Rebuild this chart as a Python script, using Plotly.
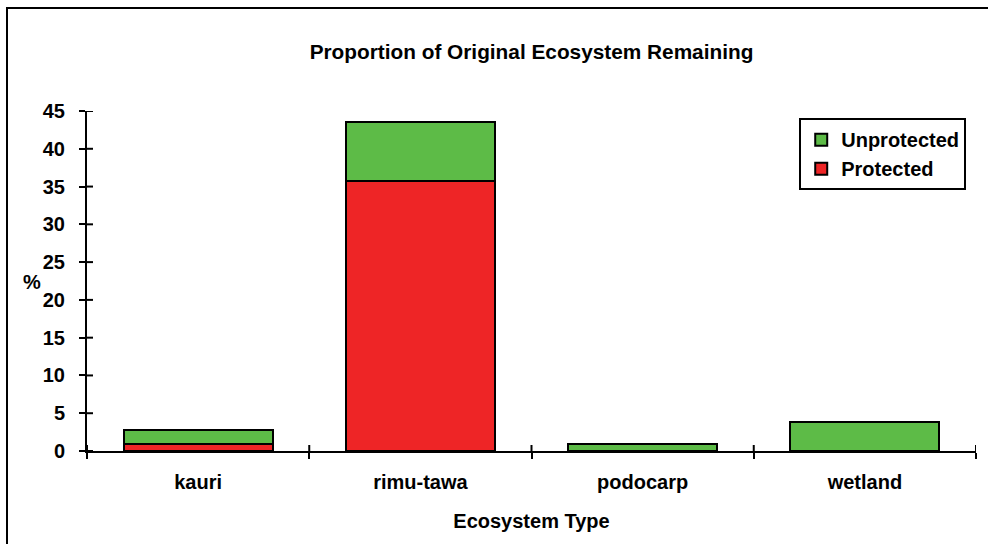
import plotly.graph_objects as go

# Share of each original ecosystem still remaining (%)
ecosystems = ["kauri", "rimu-tawa", "podocarp", "wetland"]
protected = [0.9, 35.8, 0.0, 0.0]
unprotected = [1.9, 7.7, 0.9, 3.9]
y_ticks = [0, 5, 10, 15, 20, 25, 30, 35, 40, 45]

GREEN = "#5DBB47"
RED = "#EE2526"
FONT = "Liberation Sans, Arial, sans-serif"

fig = go.Figure()
fig.add_trace(go.Bar(
    x=ecosystems, y=protected, name="<b>Protected</b>",
    marker=dict(color=RED, line=dict(color="black", width=2)),
))
fig.add_trace(go.Bar(
    x=ecosystems, y=unprotected, name="<b>Unprotected</b>",
    marker=dict(color=GREEN, line=dict(color="black", width=2)),
))

axis_font = dict(family=FONT, size=20, color="black")
TICK = 6  # tick half-length in px

fig.update_layout(
    width=988, height=544,
    margin=dict(l=87, r=12, t=111, b=93),
    paper_bgcolor="white", plot_bgcolor="white",
    barmode="stack", bargap=0.33,
    font=dict(family=FONT, color="black"),
    title=dict(
        text="<b>Proportion of Original Ecosystem Remaining</b>",
        x=0.5, xref="paper", y=1 - 52 / 544, yanchor="middle",
        font=dict(family=FONT, size=20.8, color="black"),
    ),
    xaxis=dict(
        type="category", categoryorder="array", categoryarray=ecosystems,
        range=[-0.5, 3.5], tickson="boundaries",
        ticks="outside", ticklen=TICK, tickwidth=2, tickcolor="black",
        showline=True, linecolor="black", linewidth=2,
        showgrid=False, zeroline=False,
        tickfont=axis_font,
        tickvals=ecosystems, ticktext=[f"<b>{e}</b>" for e in ecosystems],
        ticklabelstandoff=12,
        title=dict(text="<b>Ecosystem Type</b>", font=axis_font, standoff=22),
    ),
    yaxis=dict(
        range=[0, 45], tickvals=y_ticks,
        ticktext=[f"<b>{v}</b>" for v in y_ticks],
        ticks="outside", ticklen=TICK, tickwidth=2, tickcolor="black",
        showline=True, linecolor="black", linewidth=2,
        showgrid=False, zeroline=False,
        tickfont=axis_font, ticklabelstandoff=10,
    ),
    legend=dict(
        x=0.989, y=0.979, xanchor="right", yanchor="top",
        bgcolor="white", bordercolor="black", borderwidth=2,
        font=dict(family=FONT, size=20, color="black"),
        itemwidth=30,
    ),
    showlegend=True,
)

plot_w = 988 - 87 - 12
plot_h = 544 - 111 - 93

# inward halves of the tick marks, so the ticks cross the axes
for v in y_ticks:
    fig.add_shape(
        type="line", xref="paper", yref="y",
        x0=0, x1=TICK / plot_w, y0=v, y1=v,
        line=dict(color="black", width=2), layer="above",
    )
for b in range(len(ecosystems) + 1):
    fig.add_shape(
        type="line", xref="x", yref="paper",
        x0=b - 0.5, x1=b - 0.5, y0=0, y1=TICK / plot_h,
        line=dict(color="black", width=2), layer="above",
    )

# unit label beside the y axis
fig.add_annotation(
    text="<b>%</b>", xref="paper", yref="paper",
    x=(32 - 87) / plot_w, y=(451 - 282) / plot_h,
    xanchor="center", yanchor="middle",
    showarrow=False, font=axis_font,
)

# chart frame
fig.add_shape(
    type="rect", xref="paper", yref="paper",
    x0=(7 - 87) / plot_w, x1=1.2, y0=-0.5, y1=(451 - 8) / plot_h,
    line=dict(color="black", width=2), fillcolor="rgba(0,0,0,0)", layer="below",
)

fig.write_html("out.html")
